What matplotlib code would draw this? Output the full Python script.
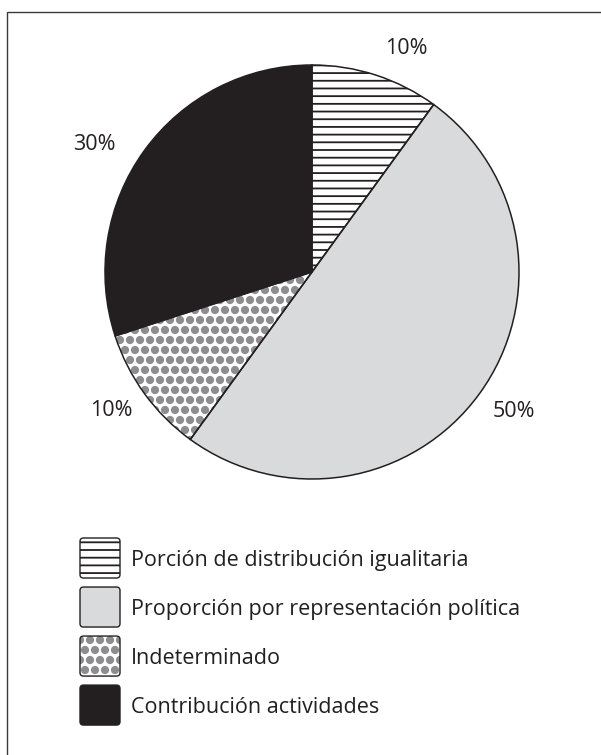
import matplotlib
matplotlib.use("Agg")
import matplotlib.pyplot as plt
import matplotlib.hatch as mhatch
from matplotlib.patches import FancyBboxPatch, Rectangle
from matplotlib.legend_handler import HandlerPatch

# ---- data ----
categories = ["Porción de distribución igualitaria",
              "Proporción por representación política",
              "Indeterminado",
              "Contribución actividades"]
values = [10, 50, 10, 30]
pct_labels = ["10%", "50%", "10%", "30%"]

# ---- style ----
INK = "#231f20"
face_colors = ["white", "#d9dadc", "white", INK]
hatch_colors = [INK, "#d9dadc", "#8d8d8f", INK]
hatches = ["--", None, "..", None]
# label placement (in units of the pie radius)
label_xy = [(0.454, 1.082), (0.976, -0.676), (-0.971, -0.667), (-1.053, 0.614)]

plt.rcParams["hatch.linewidth"] = 1.3
plt.rcParams["font.family"] = ["Open Sans", "DejaVu Sans"]

# texture tuning: bigger, slightly sparser dots; slightly denser lines
mhatch.SmallFilledCircles.size = 0.32


def _dots_init(self, hatch, density):
    self.num_rows = int(round(hatch.count('.') * density * 5 / 6))
    mhatch.Circles.__init__(self, hatch, density)


def _lines_init(self, hatch, density):
    self.num_lines = int(round((hatch.count('-') + hatch.count('+')) * density * 13 / 12))
    self.num_vertices = self.num_lines * 2


mhatch.SmallFilledCircles.__init__ = _dots_init
mhatch.HorizontalHatch.__init__ = _lines_init

W, H = 601, 755
fig = plt.figure(figsize=(W / 100, H / 100), dpi=100)

cx, cy, r = 312, 272, 207
ax = fig.add_axes([(cx - r) / W, (H - cy - r) / H, 2 * r / W, 2 * r / H])

fs = 15.5
wedges, texts = ax.pie(values, labels=pct_labels, startangle=90, counterclock=False,
                       colors=face_colors, labeldistance=1.18,
                       wedgeprops=dict(linewidth=0),
                       textprops=dict(ha="center", va="center", fontsize=fs,
                                      color=INK))
for t, xy in zip(texts, label_xy):
    t.set_position(xy)
for w, hc, h in zip(wedges, hatch_colors, hatches):
    w.set_edgecolor(hc)
    w.set_linewidth(0)
    if h:
        w.set_hatch(h)

# outlines
ax.pie(values, startangle=90, counterclock=False,
       wedgeprops=dict(fill=False, edgecolor=INK, linewidth=1.1))
ax.set_xlim(-1, 1)
ax.set_ylim(-1, 1)
ax.set_aspect("equal")

BOX = 28.8  # points (40 px)


class RoundBox(HandlerPatch):
    def create_artists(self, legend, orig_handle, xdescent, ydescent,
                       width, height, fontsize, trans):
        rad = 2.5
        x0 = -xdescent
        y0 = 0.36 * fontsize - BOX / 2
        args = ((x0 + rad, y0 + rad), width - 2 * rad, BOX - 2 * rad)
        fill = FancyBboxPatch(*args, boxstyle=f"round,pad={rad}")
        self.update_prop(fill, orig_handle, legend)
        fill.set_linewidth(0)
        fill.set_transform(trans)
        outline = FancyBboxPatch(*args, boxstyle=f"round,pad={rad}",
                                 fill=False, edgecolor=INK, linewidth=1.0)
        outline.set_transform(trans)
        return [fill, outline]


hh = (BOX / fs - 0.245) / 0.65
descent = 0.35 * fs * (hh - 0.7)
box_top_pt = fs * hh - 2 * descent          # handle box top above baseline
patch_top_pt = 0.36 * fs + BOX / 2
anchor_px = 538 - (box_top_pt - patch_top_pt) * 100 / 72
leg = fig.legend(wedges, categories, loc="upper left",
                 bbox_to_anchor=(80 / W, 1 - anchor_px / H),
                 frameon=False, fontsize=fs, borderpad=0, borderaxespad=0,
                 handlelength=BOX / fs, handleheight=hh, handletextpad=11 * 0.72 / fs,
                 labelspacing=6.5 / fs,
                 handler_map={w: RoundBox() for w in wedges})
for t in leg.get_texts():
    t.set_color(INK)

# frame around figure (left and top visible)
fig.add_artist(Rectangle((7 / W, -0.05), 1.2, (H - 12) / H + 0.05,
                         transform=fig.transFigure, fill=False,
                         edgecolor="#3a3a3a", linewidth=1.0))

fig.savefig("out.png", dpi=100)
